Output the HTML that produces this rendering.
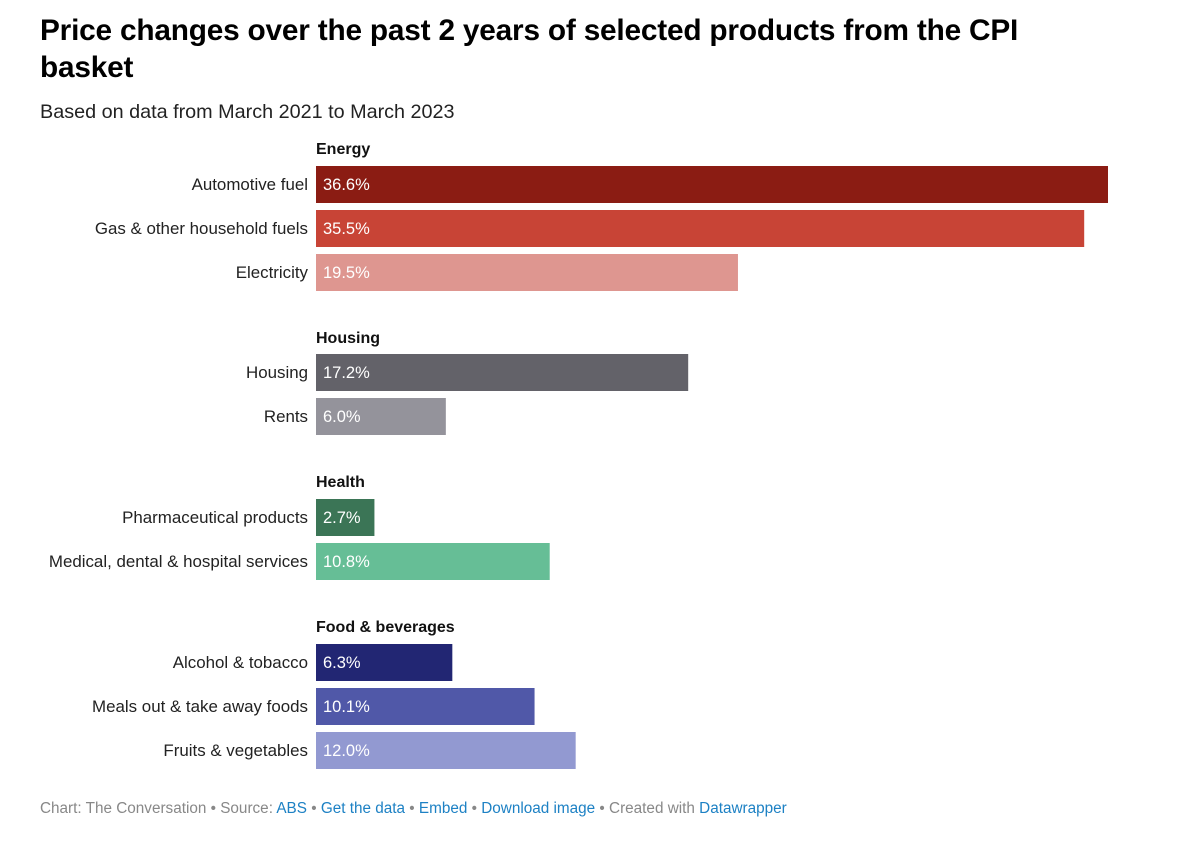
<!DOCTYPE html>
<html><head><meta charset="utf-8"><style>
body{margin:0;width:1200px;height:843px;background:#fff;font-family:"Liberation Sans",Arial,sans-serif;position:relative;overflow:hidden}
h1{position:absolute;left:40px;top:12px;margin:0;font-size:29.8px;line-height:37px;font-weight:bold;color:#000;width:1030px;letter-spacing:-0.2px}
.sub{position:absolute;left:40px;top:101px;font-size:19.8px;color:#222}
.foot{position:absolute;left:40px;top:800px;font-size:15.3px;color:#888}
.foot a{color:#1d81c4;text-decoration:none}
</style></head><body>
<h1>Price changes over the past 2 years of selected products from the CPI basket</h1>
<div class="sub">Based on data from March 2021 to March 2023</div>
<svg id="chart" width="1200" height="843" style="position:absolute;left:0;top:0"></svg>
<div class="foot">Chart: The Conversation • Source: <a>ABS</a> • <a>Get the data</a> • <a>Embed</a> • <a>Download image</a> • Created with <a>Datawrapper</a></div>
<script>
const groups = ["Energy","Housing","Health","Food & beverages"];
const groupHeaderY = [148,337,481,626];
const categories = ["Automotive fuel","Gas & other household fuels","Electricity","Housing","Rents","Pharmaceutical products","Medical, dental & hospital services","Alcohol & tobacco","Meals out & take away foods","Fruits & vegetables"];
const values = [36.6,35.5,19.5,17.2,6.0,2.7,10.8,6.3,10.1,12.0];
const rowTop = [166,210,254,354,398,499,543,644,688,732];
const colors = ["#8b1c13","#c84436","#de9690","#636269","#94939b","#3b7556","#66be96","#222673","#5058a8","#9299d1"];
const ns="http://www.w3.org/2000/svg";
const svg=document.getElementById('chart');
const x0=316, pxPer=(1108-316)/36.6, barH=37;
const xs=v=>x0+v*pxPer;
groups.forEach((g,i)=>{
  const t=document.createElementNS(ns,'text');
  
  
  t.setAttribute('x',x0);t.setAttribute('y',groupHeaderY[i]+6);
  t.setAttribute('font-size','16');t.setAttribute('font-weight','bold');t.setAttribute('fill','#111');
  t.setAttribute('font-family','Liberation Sans, Arial, sans-serif');
  t.textContent=g;svg.appendChild(t);
});
categories.forEach((c,i)=>{
  const y=rowTop[i];
  const r=document.createElementNS(ns,'rect');
  
  
  r.setAttribute('x',x0);r.setAttribute('y',y);r.setAttribute('width',xs(values[i])-x0);r.setAttribute('height',barH);r.setAttribute('fill',colors[i]);
  svg.appendChild(r);
  const l=document.createElementNS(ns,'text');
  
  
  l.setAttribute('x',x0-8);l.setAttribute('y',y+24);l.setAttribute('text-anchor','end');
  l.setAttribute('font-size','16.9');l.setAttribute('fill','#222');l.setAttribute('font-family','Liberation Sans, Arial, sans-serif');
  l.textContent=c;svg.appendChild(l);
  const v=document.createElementNS(ns,'text');
  
  
  v.setAttribute('x',x0+7);v.setAttribute('y',y+24);
  v.setAttribute('font-size','16.5');v.setAttribute('fill','#fff');v.setAttribute('font-family','Liberation Sans, Arial, sans-serif');
  v.textContent=values[i].toFixed(1)+'%';svg.appendChild(v);
});
</script>
</body></html>
